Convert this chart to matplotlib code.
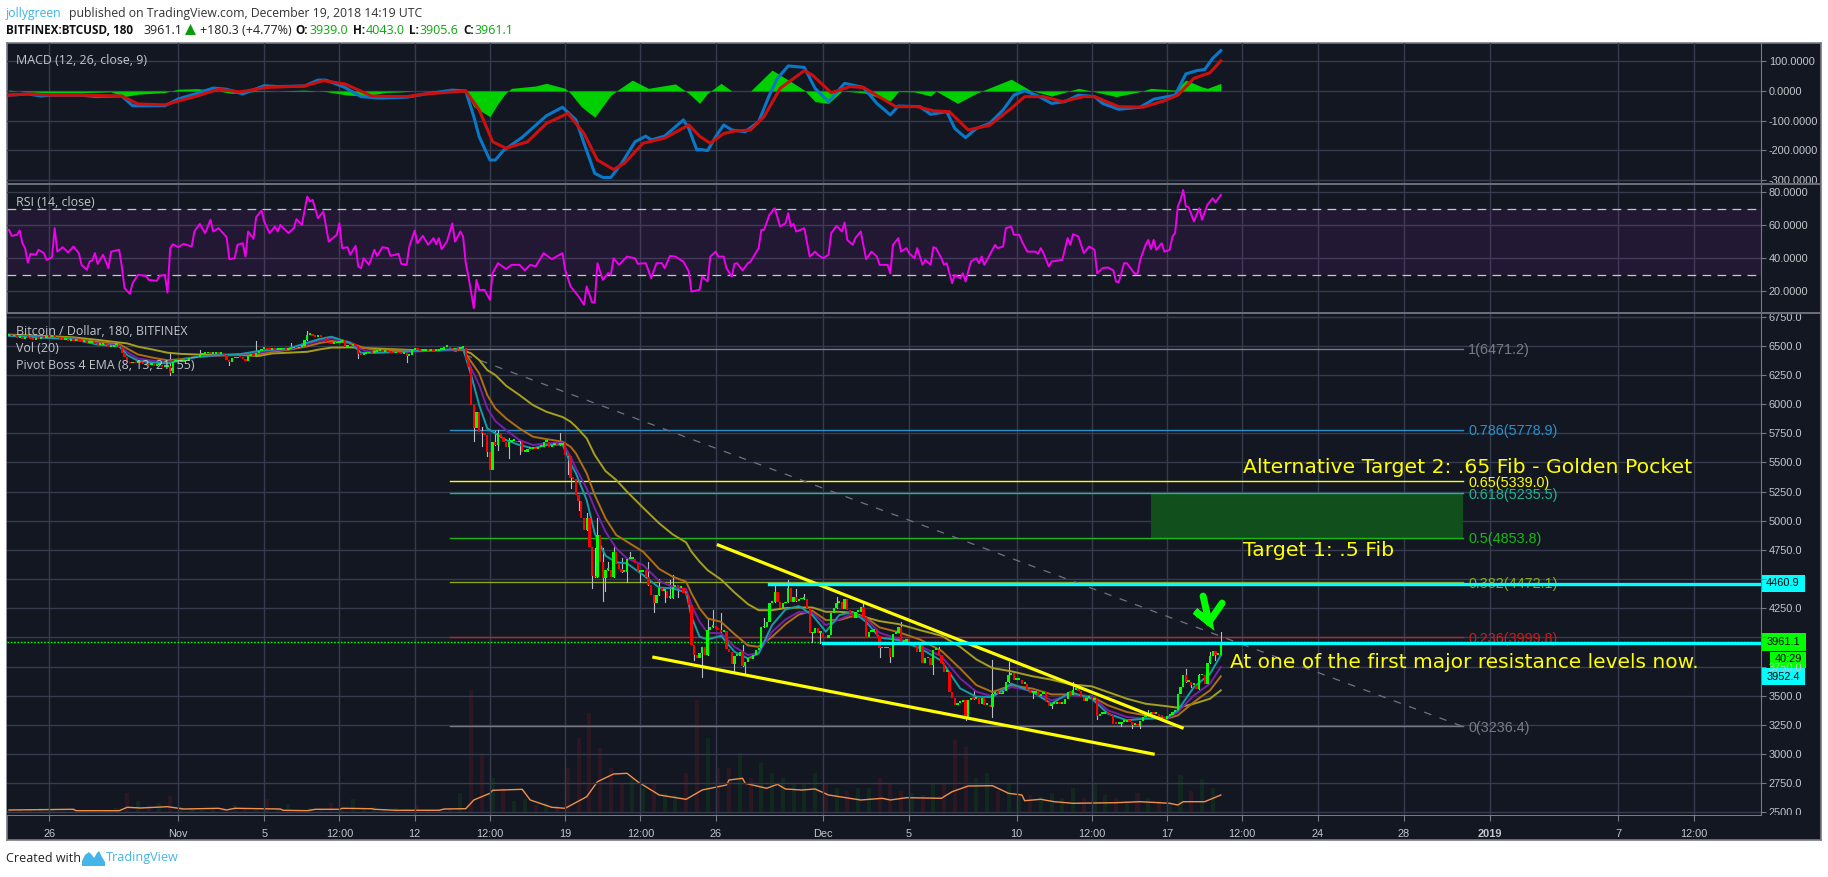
"""
Bitcoin / Dollar 3h chart with MACD and RSI panes, dark TradingView look.
Every series is read off the reference picture; x positions are 3h bar numbers.
"""

import matplotlib
matplotlib.use("Agg")
import matplotlib.pyplot as plt
from matplotlib.patches import Rectangle, Polygon
from matplotlib.transforms import Bbox


WIDTH, HEIGHT = 1828, 877

BG = "#131722"
GRID = "#363c4e"
FRAME = "#787b86"
TEXT = "#c4c6cc"
CYAN = "#00ffff"
LIME = "#00ff00"
YELLOW = "#ffff00"

# Bar closes, one per 3h bar, bar 0 is the left edge of the chart
CLOSES = [
    6585, 6580, 6590, 6570, 6575, 6560, 6575, 6565, 6560, 6550, 6565, 6555, 6570, 6565, 6575,
    6572, 6583, 6577, 6563, 6555, 6549, 6549, 6543,
    6549, 6543, 6549, 6540, 6534, 6534, 6526, 6526,
    6526, 6514, 6506, 6506, 6514, 6506, 6491, 6491,
    6506, 6506, 6491, 6434, 6405, 6362, 6348, 6354,
    6348, 6354, 6348, 6342, 6339, 6334, 6339, 6325,
    6334, 6334, 6319, 6319, 6325, 6262, 6362, 6362,
    6362, 6362, 6371, 6368, 6391, 6391, 6391, 6405,
    6420, 6428, 6434, 6434, 6428, 6428, 6434, 6428,
    6428, 6420, 6377, 6362, 6391, 6391, 6405, 6400,
    6382, 6371, 6411, 6420, 6411, 6440, 6458, 6470,
    6477, 6468, 6463, 6468, 6463, 6463, 6468, 6468,
    6463, 6468, 6477, 6486, 6477, 6491, 6497, 6549,
    6592, 6592, 6586, 6577, 6583, 6577, 6563, 6534,
    6520, 6514, 6520, 6526, 6534, 6549, 6491, 6506,
    6503, 6503, 6497, 6428, 6420, 6428, 6434, 6448,
    6440, 6448, 6454, 6457, 6448, 6457, 6448, 6440,
    6434, 6440, 6434, 6428, 6434, 6411, 6420, 6463,
    6468, 6463, 6457, 6457, 6463, 6457, 6463, 6457,
    6457, 6463, 6463, 6486, 6486, 6477, 6468, 6477,
    6475, 6478, 6480,
    6377, 6320, 5991, 5791, 5934, 5757, 5749, 5734, 5591, 5434,
    5677, 5649, 5749, 5720, 5677, 5634, 5677, 5683, 5683, 5671,
    5677, 5591, 5591, 5614, 5614, 5620, 5611, 5634, 5634, 5677,
    5677, 5634, 5649, 5654, 5649, 5649, 5663, 5563, 5557, 5363,
    5357, 5220, 5169, 5020, 4920, 5020, 4777, 4529, 4514, 4877,
    4649, 4506, 4577, 4577, 4514, 4729, 4626, 4586, 4563, 4563,
    4671, 4671, 4671, 4634, 4563, 4563, 4577, 4520, 4449, 4363,
    4297, 4363, 4426, 4397, 4397, 4340, 4340, 4429, 4449, 4420,
    4420, 4377, 4357, 4277,
    3933, 3848, 3819, 3862, 3913, 3848, 4062, 4091, 4096, 4068,
    4062, 4048, 4056, 3899, 3876, 3771, 3839, 3839, 3876, 3753,
    3791, 3819, 3811, 3848, 3891, 3905, 4085, 4085, 4133, 4296,
    4302, 4388, 4305, 4248, 4291, 4305, 4422, 4305, 4342, 4313,
    4325, 4333, 4333, 4248, 4034, 4034, 4076, 4039, 4039, 4005,
    3991, 4019, 4205, 4248, 4296, 4305, 4239, 4325, 4233, 4211,
    4162, 4219, 4219, 4256, 4176, 3999, 4048, 4048, 4068, 4011,
    3905, 3905, 3905, 3905, 3828, 4028, 4034, 4085, 3962, 3962,
    3982, 3933, 3933, 3933, 3876, 3933, 3782, 3819, 3819, 3762,
    3891, 3891, 3848, 3776, 3705, 3705, 3533, 3476, 3420, 3440,
    3446, 3460, 3317, 3460, 3483, 3474, 3489, 3431, 3483, 3417,
    3417, 3403, 3511, 3531, 3511, 3511, 3540, 3617, 3674, 3694,
    3637, 3637, 3637, 3597, 3603, 3546, 3523, 3523, 3531, 3494,
    3511, 3531, 3446, 3409, 3431, 3431, 3446, 3431, 3431, 3474,
    3531, 3503, 3546, 3546, 3540, 3489, 3454, 3483, 3483, 3466,
    3483, 3323, 3346, 3346, 3346, 3340, 3331, 3260, 3254, 3254,
    3274, 3274, 3289, 3274, 3246, 3246, 3237, 3283, 3317, 3323,
    3340, 3346, 3340, 3346, 3323, 3317, 3303, 3323, 3331, 3360,
    3374, 3511, 3574, 3674, 3617, 3617, 3589, 3589, 3560, 3674,
    3674, 3603, 3780, 3837, 3883, 3846, 3846, 3961,
]

# Long wicks that stand out, bar number to price
WICK_HIGHS = {
    60: 6428, 71: 6463, 92: 6543, 105: 6520, 111: 6626, 176: 5806, 181: 5769, 182: 5777,
    186: 5706, 205: 5749, 215: 5063, 218: 4763, 219: 5026, 221: 4763, 223: 4649, 225: 4777,
    228: 4677, 231: 4729, 238: 4649, 242: 4500, 246: 4491, 247: 4534, 260: 4162, 262: 4233,
    265: 4205, 273: 3934, 281: 4162, 285: 4448, 290: 4491, 293: 4411, 296: 4371, 308: 4342,
    318: 4291, 332: 4133, 346: 3919, 359: 3551, 366: 3803, 372: 3789, 396: 3617, 424: 3374,
    438: 3731, 443: 3688, 447: 3874, 451: 4043,
}
WICK_LOWS = {
    60: 6253, 82: 6334, 130: 6391, 148: 6362, 173: 5683, 176: 5643, 178: 5557, 182: 5606,
    186: 5540, 190: 5569, 208: 5397, 209: 5277, 212: 5091, 217: 4420, 221: 4311, 222: 4397,
    230: 4477, 235: 4471, 240: 4220, 244: 4306, 249: 4349, 255: 3806, 258: 3662, 270: 3705,
    274: 3691, 299: 3962, 302: 3948, 324: 3828, 328: 3791, 344: 3690, 356: 3288, 366: 3317,
    381: 3483, 388: 3397, 405: 3303, 414: 3237, 418: 3226, 421: 3226, 440: 3574, 449: 3808,
}

# Pivot Boss EMAs, read at these bars
EMA_BARS = [
    0, 12, 24, 33, 41, 44, 48, 54, 59, 64, 70, 78, 86, 93, 98, 104, 111, 116, 120, 127,
    131, 136, 143, 151, 160, 169, 172, 175, 178, 181, 185, 190, 195, 200, 206, 209, 211,
    215, 218, 222, 226, 230, 236, 242, 247, 252, 254, 257, 260, 265, 270, 275, 279, 284,
    289, 294, 299, 304, 309, 314, 319, 324, 331, 339, 347, 354, 360, 366, 373, 381, 388,
    395, 403, 409, 416, 423, 431, 435, 441, 447, 451,
]
EMA_8 = [
    6585, 6570, 6555, 6510, 6495, 6420, 6371, 6355, 6348, 6375, 6405, 6420, 6428, 6455,
    6467, 6475, 6526, 6560, 6577, 6525, 6440, 6440, 6445, 6455, 6463, 6475, 6249, 5991,
    5791, 5749, 5691, 5649, 5620, 5649, 5654, 5491, 5406, 5177, 4891, 4700, 4643, 4634,
    4534, 4426, 4420, 4386, 4177, 4006, 3982, 4013, 3876, 3819, 3862, 4105, 4239, 4268,
    4191, 4048, 4191, 4219, 4133, 3999, 3976, 3908, 3799, 3562, 3491, 3489, 3603, 3531,
    3431, 3531, 3474, 3346, 3289, 3303, 3311, 3374, 3574, 3688, 3846,
]
EMA_13 = [
    6588, 6572, 6558, 6520, 6500, 6445, 6391, 6370, 6362, 6375, 6405, 6418, 6428, 6440,
    6460, 6470, 6514, 6545, 6563, 6530, 6470, 6440, 6445, 6450, 6460, 6470, 6306, 6163,
    5963, 5854, 5777, 5691, 5649, 5663, 5669, 5549, 5449, 5277, 5106, 4906, 4763, 4677,
    4620, 4483, 4434, 4414, 4277, 4134, 4039, 4034, 3919, 3848, 3868, 4048, 4153, 4219,
    4211, 4105, 4153, 4205, 4162, 4039, 3988, 3925, 3839, 3648, 3534, 3494, 3574, 3540,
    3460, 3503, 3494, 3374, 3317, 3303, 3303, 3360, 3503, 3603, 3746,
]
EMA_21 = [
    6590, 6578, 6565, 6532, 6515, 6475, 6425, 6395, 6375, 6385, 6405, 6415, 6420, 6428,
    6448, 6465, 6495, 6525, 6540, 6525, 6490, 6463, 6460, 6457, 6460, 6465, 6363, 6263,
    6077, 5963, 5877, 5791, 5720, 5700, 5677, 5634, 5577, 5406, 5220, 5020, 4877, 4820,
    4734, 4586, 4520, 4477, 4377, 4249, 4162, 4133, 4028, 3931, 3919, 4005, 4113, 4196,
    4228, 4148, 4148, 4182, 4171, 4085, 4045, 3982, 3885, 3733, 3591, 3531, 3589, 3560,
    3511, 3511, 3494, 3417, 3360, 3331, 3303, 3331, 3446, 3546, 3666,
]
EMA_55 = [
    6595, 6585, 6572, 6550, 6528, 6520, 6492, 6465, 6440, 6430, 6425, 6422, 6420, 6412,
    6434, 6440, 6448, 6470, 6484, 6486, 6482, 6477, 6470, 6463, 6463, 6462, 6434, 6377,
    6291, 6249, 6157, 6077, 5991, 5934, 5889, 5849, 5806, 5706, 5563, 5426, 5349, 5249,
    5111, 4977, 4883, 4814, 4734, 4649, 4576, 4496, 4385, 4285, 4233, 4233, 4251, 4256,
    4256, 4219, 4219, 4211, 4171, 4139, 4114, 4062, 4014, 3919, 3811, 3737, 3709, 3666,
    3637, 3597, 3580, 3531, 3474, 3431, 3409, 3397, 3431, 3474, 3546,
]

# Volume, every fourth bar, and its moving average
VOLUME = [
    3, 4, 3, 5, 3, 2, 4, 3, 3, 2, 5, 20, 12, 8, 10, 17, 6, 4, 3, 4, 5, 8, 5, 4, 14, 4, 9, 3,
    5, 4, 10, 4, 14, 5, 6, 4, 5, 4, 8, 3, 4, 5, 20, 123, 60, 35, 25, 12, 14, 8, 10, 8, 45,
    75, 100, 65, 45, 30, 35, 25, 30, 20, 18, 40, 113, 75, 45, 45, 60, 35, 50, 40, 35, 30,
    30, 40, 30, 25, 22, 25, 25, 35, 30, 22, 20, 18, 30, 30, 73, 66, 35, 40, 22, 30, 20, 18,
    16, 20, 15, 25, 15, 30, 18, 15, 12, 20, 15, 12, 10, 38, 22, 34, 25,
]
VOL_MA_BARS = [
    0, 24, 25, 41, 44, 49, 59, 65, 78, 81, 84, 101, 102, 111, 114, 123, 124, 135, 136, 144,
    160, 162, 170, 173, 179, 180, 191, 194, 202, 207, 215, 219, 225, 230, 234, 242, 252,
    258, 267, 268, 273, 274, 282, 286, 289, 295, 300, 305, 317, 325, 328, 334, 347, 351,
    357, 366, 372, 377, 378, 384, 389, 396, 412, 421, 432, 435, 437, 445, 451,
]
VOL_MA = [
    2.7, 3.4, 2, 2, 5.4, 4.7, 6, 3.7, 4.4, 2.7, 4.4, 3.7, 2.4, 2, 3.4, 3.4, 4.4, 4, 3.4, 2.4,
    2.4, 3.7, 4, 12.7, 19.4, 22.4, 23.4, 12.7, 5.4, 4.4, 16, 31, 38.7, 39.4, 31, 17.7, 13.4,
    22.7, 27.7, 32.7, 34.4, 29.4, 24.4, 28.4, 23.7, 22.7, 23.7, 17.7, 12.7, 14.4, 12.7, 15,
    14.4, 21, 26.7, 27, 19.4, 17.7, 12, 13.4, 11, 9.4, 10, 11, 9.4, 7.7, 11, 11, 17.7,
]

# MACD pane
MACD_BARS = [
    0, 7, 12, 16, 27, 32, 42, 46, 55, 58, 63, 70, 76, 81, 87, 95, 100, 110, 115, 118, 125,
    131, 138, 148, 155, 165, 170, 173, 175, 179, 181, 184, 191, 200, 206, 211, 214, 218,
    221, 224, 228, 233, 237, 239, 244, 251, 253, 256, 257, 260, 263, 266, 269, 274, 279,
    283, 286, 290, 296, 300, 305, 311, 318, 323, 328, 331, 339, 343, 349, 352, 356, 360,
    365, 370, 374, 378, 383, 388, 393, 398, 404, 407, 413, 421, 426, 434, 438, 442, 445,
    448, 451,
]
MACD_LINE = [
    -14, -10, -17, -14, -14, -19, -17, -50, -50, -50, -27, -8, 10, 6, -10, 18, 15, 17, 37,
    37, 12, -19, -24, -21, -10, 3, 0, -87, -155, -234, -234, -202, -157, -84, -55, -98,
    -177, -279, -293, -293, -245, -172, -153, -166, -153, -98, -127, -200, -198, -202,
    -155, -115, -132, -138, -104, -14, 43, 85, 80, 9, -36, 26, 12, -42, -81, -51, -53, -79,
    -70, -127, -158, -127, -110, -64, -14, 1, -17, -42, -36, -14, -19, -42, -62, -55, -28,
    -14, 58, 69, 73, 111, 137,
]
SIGNAL_BARS = [
    0, 7, 16, 27, 42, 48, 58, 70, 78, 86, 96, 110, 117, 125, 135, 148, 155, 170, 175, 180,
    185, 193, 200, 208, 214, 219, 225, 229, 236, 244, 253, 257, 261, 266, 270, 276, 281,
    287, 296, 299, 306, 313, 318, 326, 330, 338, 344, 350, 357, 365, 373, 378, 385, 392,
    400, 404, 413, 422, 430, 435, 441, 447, 451,
]
SIGNAL_LINE = [
    -14, -10, -14, -14, -17, -44, -47, -17, 6, -3, 12, 17, 35, 24, -17, -19, -10, 0, -64,
    -172, -194, -172, -110, -76, -144, -234, -266, -245, -177, -160, -115, -153, -177,
    -144, -136, -132, -87, 9, 69, 54, -6, 15, 12, -31, -53, -53, -67, -70, -132, -116, -59,
    -19, -19, -36, -19, -19, -53, -55, -33, -14, 43, 62, 102,
]
HIST_BARS = [
    0, 7, 15, 27, 38, 43, 48, 58, 63, 70, 76, 83, 91, 100, 110, 118, 126, 133, 140, 146,
    151, 170, 173, 179, 182, 185, 187, 196, 200, 207, 209, 213, 218, 224, 227, 232, 238,
    248, 253, 257, 260, 265, 269, 276, 284, 291, 296, 300, 305, 310, 318, 328, 331, 337,
    343, 345, 353, 360, 364, 373, 380, 388, 398, 404, 412, 421, 425, 434, 438, 444, 446,
    451,
]
HIST_VALUES = [
    3, -3, -6, -6, -3, -19, -11, -5, 6, 8, 3, -8, -2, 0, 3, -2, -14, -17, -5, -3, 0, -1,
    -53, -87, -42, -6, 9, 17, 26, 9, -8, -53, -89, -14, 6, 37, 9, 24, -8, -42, -8, 26, 0,
    0, 71, 32, 3, -36, -42, 0, -6, -34, -2, -3, -17, 0, -42, -8, 7, 40, 3, -17, 9, -2, -19,
    -2, 9, 3, 37, 14, 9, 26,
]

# RSI pane
RSI_BARS = [
    0, 1, 3, 4, 5, 6, 7, 8, 10, 11, 13, 14, 16, 17, 18, 20, 22, 24, 26, 27, 29, 30, 31, 32,
    33, 35, 37, 38, 41, 42, 43, 45, 46, 48, 51, 52, 55, 56, 58, 59, 60, 61, 63, 65, 68, 69,
    71, 73, 75, 76, 78, 81, 82, 84, 85, 87, 88, 89, 91, 92, 94, 95, 97, 99, 100, 101, 104,
    106, 107, 109, 111, 112, 113, 115, 117, 119, 122, 123, 124, 126, 127, 129, 130, 131,
    132, 134, 136, 137, 139, 141, 142, 145, 146, 148, 149, 151, 152, 154, 156, 158, 159,
    160, 161, 163, 165, 166, 168, 169, 170, 171, 173, 174, 175, 177, 179, 180, 182, 185,
    187, 190, 192, 194, 196, 199, 202, 206, 207, 209, 212, 214, 215, 217, 218, 219, 221,
    223, 224, 225, 227, 230, 233, 234, 237, 239, 241, 243, 244, 246, 248, 251, 253, 254,
    257, 258, 260, 261, 263, 264, 266, 267, 269, 270, 271, 273, 275, 276, 279, 280, 281,
    283, 285, 287, 289, 290, 291, 292, 293, 296, 298, 300, 301, 303, 305, 306, 308, 310,
    311, 312, 314, 315, 317, 319, 321, 323, 324, 327, 328, 329, 331, 332, 334, 335, 337,
    338, 340, 341, 343, 344, 345, 347, 348, 349, 351, 352, 354, 355, 356, 358, 360, 361,
    362, 363, 364, 367, 368, 370, 371, 373, 374, 376, 377, 379, 382, 383, 384, 385, 387,
    388, 392, 394, 395, 396, 398, 400, 402, 404, 405, 407, 409, 411, 412, 413, 415, 416,
    419, 420, 421, 423, 424, 425, 426, 427, 429, 430, 432, 433, 434, 435, 436, 437, 438,
    439, 441, 443, 444, 446, 448, 449, 451,
]
RSI_VALUES = [
    57.2, 53.6, 54.2, 56.8, 49.1, 46.1, 37.4, 42.7, 42.1, 45.1, 43.1, 39, 40.6, 58.2, 44,
    46.7, 43.5, 47.1, 43.1, 36, 33, 38, 38.6, 43.1, 36.6, 42.1, 34, 44, 45.1, 35, 21.9,
    18.4, 24.9, 29.9, 29.3, 26.9, 26.3, 29.3, 29.9, 19.2, 46.1, 48.5, 46.7, 48.7, 47.1,
    56.2, 60.8, 55.2, 63.3, 56.2, 58.2, 52.8, 39.4, 40, 48.1, 49.1, 41, 56.2, 51.9, 64.9,
    68.9, 62.3, 55.2, 59.2, 56.2, 60.2, 55.2, 58.2, 63.7, 60.2, 77.4, 74.4, 75.4, 64.3,
    68.3, 50.1, 54.2, 61.2, 46.1, 46.7, 42.1, 47.5, 35, 34, 40, 36, 45.1, 41.4, 46.7, 46.1,
    41.4, 42.7, 36.6, 36, 47.1, 56.8, 49.1, 53.6, 48.1, 52.2, 48.5, 52.2, 45.5, 50.1, 61.2,
    50.1, 56.2, 53.2, 37, 28.9, 9.7, 26.9, 20.8, 20.8, 14.8, 31, 37, 33.4, 36, 36, 32.6,
    36, 35, 43.1, 39.4, 43.1, 33, 22.9, 16.8, 11.8, 22.9, 13.2, 13.2, 37, 26.9, 31, 29.9,
    40, 36, 41, 40, 36.6, 37, 27.9, 37, 37, 34, 41.4, 41, 38, 32, 19.8, 20.8, 28.9, 25.9,
    41, 44, 41, 41, 34, 28.9, 36.6, 37, 32.6, 37, 38, 46.1, 57.2, 57.2, 66.3, 70.3, 59.2,
    61.2, 67.3, 59.2, 60.8, 56.2, 58.2, 41, 44, 42.1, 40, 42.1, 55.2, 59.6, 56.2, 61.7,
    51.1, 48.1, 52.2, 56.2, 39.4, 44, 41, 36, 36, 30.9, 48.1, 52.2, 44, 46.1, 43.1, 40,
    46.1, 36, 39, 36, 46.7, 46.1, 40, 36, 37, 24.9, 29.9, 27.9, 30.9, 25.9, 38, 40, 37, 41,
    36, 39, 48.1, 46.1, 47.1, 58.2, 59.2, 54.2, 54.2, 50.1, 44, 44, 42.7, 46.1, 43.1, 35,
    38, 39, 52.2, 48.1, 54.6, 53.2, 43.1, 47.1, 45.1, 30.9, 34, 34.4, 32.6, 25.9, 25.3, 37,
    37, 30.5, 30.5, 39, 48.1, 51.1, 45.5, 51.1, 45.1, 49.1, 44, 45.1, 53.2, 55.2, 71.3,
    75.4, 81.4, 71.3, 71, 62.3, 70.3, 63.3, 72.4, 76.4, 73.8, 78.4,
]

# Fibonacci retracement levels
FIB_LABELS = [
    "1(6471.2)", "0.786(5778.9)", "0.65(5339.0)", "0.618(5235.5)",
    "0.5(4853.8)", "0.382(4472.1)", "0.236(3999.8)", "0(3236.4)",
]
FIB_PRICES = [6471.2, 5778.9, 5339.0, 5235.5, 4853.8, 4472.1, 3999.8, 3236.4]
FIB_COLORS = [
    "#787b86", "#2b8fc9", "#ffff00", "#1fb58f", "#18b818", "#8aa81a", "#c42020", "#787b86",
]
FIB_START_BAR = 164
FIB_END_BAR = 541

# Drawn annotations, bar number and price
ZONE_START_BAR = 425
UPPER_TREND_BARS = [264, 436.6]
UPPER_TREND_PRICES = [4791, 3225]
LOWER_TREND_BARS = [240, 425.8]
LOWER_TREND_PRICES = [3829, 3000]
ARROW_BARS = [444.4, 446.6, 441.4, 446.6, 451.5]
ARROW_PRICES = [4354, 4131, 4226, 4131, 4294]
RESISTANCE_HIGH = 4460.9
RESISTANCE_HIGH_START = 283
RESISTANCE_LOW = 3952.4
RESISTANCE_LOW_START = 303
LAST_PRICE = 3961.1

# Axis ticks; x ticks are in days after 26 Oct
X_TICK_DAYS = [0, 6, 10, 13.5, 17, 20.5, 24, 27.5, 31, 36, 40, 45, 48.5, 52, 55.5, 59, 63, 67, 73, 76.5]
X_TICK_LABELS = [
    "26", "Nov", "5", "12:00", "12", "12:00", "19", "12:00", "26", "Dec", "5", "10",
    "12:00", "17", "12:00", "24", "28", "2019", "7", "12:00",
]
PRICE_TICKS = [2500, 2750, 3000, 3250, 3500, 3750, 4000, 4250, 4500, 4750, 5000, 5250, 5500, 5750, 6000, 6250, 6500, 6750]
HIDDEN_PRICE_LABELS = ["4500.0", "4000.0"]
MACD_TICKS = [-300, -200, -100, 0, 100]
RSI_TICKS = [20, 40, 60, 80]

LOGO_X = [82, 82, 85, 89, 92, 94, 97, 99, 102, 105, 105]
LOGO_Y = [866, 861, 855, 852, 855, 858, 853, 851, 857, 862, 866]


def bar_from_day(day):
    """Day count after 26 Oct to 3h bar number."""
    return (day + 1.875) * 8


def add_pane(fig, top, bottom, ylim, yticks, fmt, visible_patch=False):
    """Add one chart pane from pixel edges, with the scale on the right."""
    left, right = 7, 1761
    ax = fig.add_axes([left / WIDTH, 1 - bottom / HEIGHT, (right - left) / WIDTH, (bottom - top) / HEIGHT])
    ax.set_facecolor(BG)
    ax.patch.set_visible(visible_patch)
    ax.set_xlim(bar_from_day(-1.967), bar_from_day(79.63))
    ax.set_ylim(*ylim)
    ax.set_xticks([bar_from_day(d) for d in X_TICK_DAYS])
    ax.set_xticklabels([])
    ax.yaxis.tick_right()
    ax.set_yticks(yticks)
    ax.set_yticklabels([fmt.format(v) for v in yticks], family="Liberation Sans", fontsize=7.9, color=TEXT)
    ax.tick_params(axis="y", length=3.6, width=0.8, color=FRAME, pad=2)
    ax.tick_params(axis="x", length=0)
    ax.grid(True, color=GRID, linewidth=1.0)
    ax.set_axisbelow(True)
    for side, spine in ax.spines.items():
        spine.set_visible(side == "right")
        spine.set_color(FRAME)

    # Labels at the pane edge are cut off like the original scale
    clip = Bbox.from_extents(0, (HEIGHT - bottom), WIDTH, (HEIGHT - top))
    for label in ax.get_yticklabels():
        label.set_clip_box(clip)
        label.set_clip_on(True)
    return ax


def fig_text(fig, x, y, text, **kwargs):
    """Write text at pixel position, y is the vertical centre."""
    kwargs.setdefault("va", "center")
    kwargs.setdefault("family", "Open Sans")
    return fig.text(x / WIDTH, 1 - y / HEIGHT, text, **kwargs)


def axis_tag(fig, left, right, top, bottom, text, color):
    """Coloured value tag sitting on the price scale."""
    fig.add_artist(Rectangle((left / WIDTH, 1 - bottom / HEIGHT), (right - left) / WIDTH, (bottom - top) / HEIGHT,
                             transform=fig.transFigure, facecolor=color, edgecolor="none", zorder=2))
    fig_text(fig, (left + right) / 2, (top + bottom) / 2, text, ha="center", family="Liberation Sans",
             fontsize=7.9, color="#000000", zorder=3)


def draw_candles(ax):
    opens = [CLOSES[0]] + CLOSES[:-1]
    for i, (o, c) in enumerate(zip(opens, CLOSES)):
        hi = max(o, c, WICK_HIGHS.get(i, 0))
        lo = min(o, c, WICK_LOWS.get(i, 99999))
        if hi > max(o, c) or lo < min(o, c):
            ax.plot([i, i], [lo, hi], color="#b8bcc4", linewidth=0.8, zorder=3)
    colors = [LIME if c >= o else "#ff0000" for o, c in zip(opens, CLOSES)]
    bottoms = [min(o, c) for o, c in zip(opens, CLOSES)]
    heights = [max(abs(c - o), 16) for o, c in zip(opens, CLOSES)]
    ax.bar(range(len(CLOSES)), heights, bottom=bottoms, width=0.85, color=colors, linewidth=0, zorder=5.5)


def draw_price_pane(fig):
    # Volume sits in its own axes behind the price axes
    vol = add_pane(fig, 314, 815, (-2.3, 498.7), [], "{}", visible_patch=True)
    vol.grid(False)
    vol.spines["right"].set_visible(False)
    vol.tick_params(axis="both", length=0)
    vol.set_zorder(1)
    vol_bars = list(range(0, len(CLOSES), 4))
    vol_colors = ["#2c1722" if CLOSES[b] < CLOSES[max(b - 1, 0)] else "#11281f" for b in vol_bars]
    vol.bar(vol_bars, VOLUME, width=1.5, color=vol_colors, linewidth=0, zorder=1)
    vol.plot(VOL_MA_BARS, VOL_MA, color="#f2904a", linewidth=1.0, zorder=2)

    ax = add_pane(fig, 314, 815, (2477, 6772), PRICE_TICKS, "{:.1f}")
    ax.set_zorder(2)
    for label in ax.get_yticklabels():
        if label.get_text() in HIDDEN_PRICE_LABELS:
            label.set_visible(False)
    ax.set_xticklabels(X_TICK_LABELS, family="Liberation Sans", fontsize=7.9, color=TEXT)
    ax.tick_params(axis="x", length=4, width=0.8, color=FRAME, pad=6)
    for label in ax.get_xticklabels():
        if label.get_text() == "2019":
            label.set_fontweight("bold")

    ax.fill_between([ZONE_START_BAR, FIB_END_BAR], FIB_PRICES[4], FIB_PRICES[3], color="#114f1d", linewidth=0, zorder=1)
    for price, color, label in zip(FIB_PRICES, FIB_COLORS, FIB_LABELS):
        ax.plot([FIB_START_BAR, FIB_END_BAR], [price, price], color=color, linewidth=1.0, zorder=2)
        ax.text(FIB_END_BAR + 2, price - 12, label, color=color, va="center", family="Liberation Sans",
                fontsize=10.4, zorder=2)
    ax.plot([FIB_START_BAR, FIB_END_BAR], [FIB_PRICES[0], FIB_PRICES[-1]], color="#6f7280", linewidth=0.9,
            linestyle=(0, (6, 7)), zorder=2)
    ax.axhline(LAST_PRICE, color=LIME, linewidth=1.0, linestyle=(0, (1.2, 1.2)), zorder=2)

    draw_candles(ax)
    ax.plot(EMA_BARS, EMA_55, color="#a69f1e", linewidth=1.4, zorder=5)
    ax.plot(EMA_BARS, EMA_21, color="#b06e14", linewidth=1.4, zorder=5)
    ax.plot(EMA_BARS, EMA_13, color="#7a1fa8", linewidth=1.4, zorder=5)
    ax.plot(EMA_BARS, EMA_8, color="#159ca6", linewidth=1.4, zorder=5)

    ax.plot(UPPER_TREND_BARS, UPPER_TREND_PRICES, color=YELLOW, linewidth=2.3, zorder=6)
    ax.plot(LOWER_TREND_BARS, LOWER_TREND_PRICES, color=YELLOW, linewidth=2.3, zorder=6)
    ax.plot(ARROW_BARS, ARROW_PRICES, color=LIME, linewidth=5, solid_capstyle="round", solid_joinstyle="miter", zorder=6)
    ax.plot([RESISTANCE_HIGH_START, ax.get_xlim()[1]], [RESISTANCE_HIGH] * 2, color=CYAN, linewidth=2.4, zorder=7)
    ax.plot([RESISTANCE_LOW_START, ax.get_xlim()[1]], [RESISTANCE_LOW] * 2, color=CYAN, linewidth=2.4, zorder=7)


def draw_macd_pane(fig):
    ax = add_pane(fig, 43, 185, (-318.6, 162.7), MACD_TICKS, "{:.4f}")
    ax.fill_between(HIST_BARS, 0, HIST_VALUES, color="#00d000", linewidth=0, zorder=2)
    ax.plot(MACD_BARS, MACD_LINE, color="#0a78c8", linewidth=2.2, zorder=3)
    ax.plot(SIGNAL_BARS, SIGNAL_LINE, color="#cc1010", linewidth=2.2, zorder=4)


def draw_rsi_pane(fig):
    ax = add_pane(fig, 185, 314, (6.2, 84.4), RSI_TICKS, "{:.4f}")
    ax.axhspan(30, 70, facecolor="#9c27b0", alpha=0.12, linewidth=0, zorder=1)
    for level in (30, 70):
        ax.axhline(level, color="#c8c8d0", linewidth=0.9, linestyle=(0, (7, 5)), zorder=2)
    ax.plot(RSI_BARS, RSI_VALUES, color="#f000f0", linewidth=1.4, zorder=3)


def draw_texts(fig):
    fig_text(fig, 6, 13, "jollygreen", fontsize=8.8, color="#3bb3e4")
    fig_text(fig, 69, 13, "published on TradingView.com, December 19, 2018 14:19 UTC", fontsize=8.8, color="#333333")

    green = "#09a809"
    fig_text(fig, 6, 30, "BITFINEX:BTCUSD, 180", fontsize=8.5, color="#111111", fontweight="bold")
    fig_text(fig, 143, 30, "3961.1", fontsize=9, color="#222222")
    fig.add_artist(Polygon([(185 / WIDTH, 1 - 35 / HEIGHT), (196 / WIDTH, 1 - 35 / HEIGHT), (190.5 / WIDTH, 1 - 24 / HEIGHT)],
                           transform=fig.transFigure, facecolor="#0a9a0a", edgecolor="none"))
    fig_text(fig, 199.5, 30, "+180.3 (+4.77%)", fontsize=9, color="#222222")
    for x_name, name, x_value, value in [(295.5, "O:", 309, "3939.0"), (352.7, "H:", 366, "4043.0"),
                                         (409, "L:", 419.6, "3905.6"), (463.4, "C:", 474.5, "3961.1")]:
        fig_text(fig, x_name, 30, name, fontsize=8.5, color="#111111", fontweight="bold")
        fig_text(fig, x_value, 30, value, fontsize=9, color=green)

    fig_text(fig, 15.6, 60.7, "MACD (12, 26, close, 9)", fontsize=8.9, color=TEXT, zorder=5)
    fig_text(fig, 15.6, 202, "RSI (14, close)", fontsize=8.9, color=TEXT, zorder=5)
    fig_text(fig, 15.6, 331.7, "Bitcoin / Dollar, 180, BITFINEX", fontsize=8.9, color=TEXT, zorder=5)
    fig_text(fig, 15.6, 348.8, "Vol (20)", fontsize=8.9, color=TEXT, zorder=5)
    fig_text(fig, 15.6, 365.4, "Pivot Boss 4 EMA (8, 13, 21, 55)", fontsize=8.9, color=TEXT, zorder=5)

    fig_text(fig, 1243, 467.7, "Alternative Target 2: .65 Fib - Golden Pocket", family="DejaVu Sans", fontsize=14.7, color=YELLOW)
    fig_text(fig, 1243, 550.7, "Target 1: .5 Fib", family="DejaVu Sans", fontsize=14.7, color=YELLOW)
    fig_text(fig, 1230, 662.7, "At one of the first major resistance levels now.", family="DejaVu Sans", fontsize=14.5, color=YELLOW)

    axis_tag(fig, 1761, 1805, 575, 592, "4460.9", CYAN)
    axis_tag(fig, 1761, 1806, 633, 651, "3961.1", LIME)
    axis_tag(fig, 1770, 1806, 651.5, 667.5, "40:29", LIME)
    axis_tag(fig, 1761, 1805, 668, 685, "3952.4", CYAN)

    fig_text(fig, 6, 858, "Created with", fontsize=9, color="#222222")
    fig.add_artist(Polygon([(x / WIDTH, 1 - y / HEIGHT) for x, y in zip(LOGO_X, LOGO_Y)],
                           transform=fig.transFigure, facecolor="#45b4e8", edgecolor="none"))
    fig_text(fig, 106, 858, "TradingView", fontsize=9.1, color="#45b4e8")


def main():
    fig = plt.figure(figsize=(WIDTH / 100, HEIGHT / 100), dpi=100, facecolor="white")

    # Dark frame behind all panes, it also carries the time axis strip
    back = fig.add_axes([7 / WIDTH, 1 - 840 / HEIGHT, (1821 - 7) / WIDTH, (840 - 43) / HEIGHT])
    back.set_facecolor(BG)
    back.set_xticks([])
    back.set_yticks([])
    back.set_zorder(-1)
    for spine in back.spines.values():
        spine.set_color(FRAME)
        spine.set_linewidth(1.2)

    draw_macd_pane(fig)
    draw_rsi_pane(fig)
    draw_price_pane(fig)

    # Pane dividers
    for y in (185, 314):
        fig.add_artist(Rectangle((7 / WIDTH, 1 - y / HEIGHT), (1821 - 7) / WIDTH, 1.5 / HEIGHT,
                                 transform=fig.transFigure, facecolor="#6a6d78", edgecolor="none", zorder=2))
    fig.add_artist(Rectangle((7 / WIDTH, 1 - 815.5 / HEIGHT), (1761 - 7) / WIDTH, 1 / HEIGHT,
                             transform=fig.transFigure, facecolor=FRAME, edgecolor="none", zorder=2))

    draw_texts(fig)

    fig.savefig("out.png", dpi=100, facecolor="white")
    plt.close(fig)


if __name__ == "__main__":
    main()
